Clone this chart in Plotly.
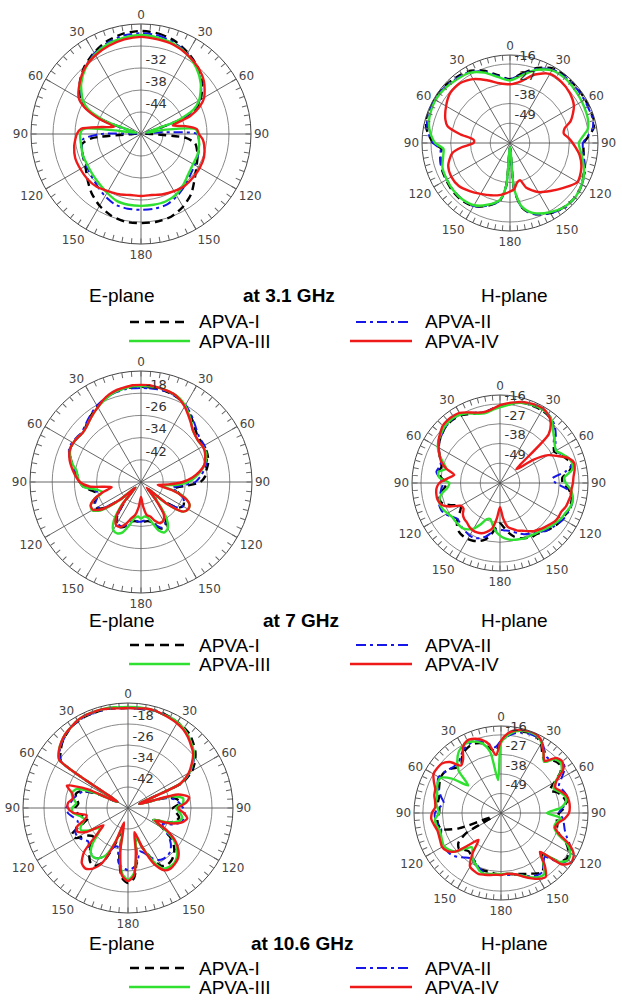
import plotly.graph_objects as go

W, H = 622, 1007

# ---------------- data: angles (deg) and levels (dB) ----------------
TH_E31 = [0, 10, 20, 30, 40, 50, 60, 65, 70, 75, 80, 85, 90, 95, 100, 110, 120, 130, 140, 150,
          160, 170, 180, 190, 200, 210, 220, 230, 240, 250, 260, 265, 270, 275, 280, 285, 290,
          295, 300, 310, 320, 330, 340, 350, 360]
E31_I = [-21.9, -22.2, -23.0, -24.4, -26.0, -28.2, -31.2, -33.4, -38.5, -48.4, -48.9, -49.2, -47.3, -37.7, -35.0,
         -33.6, -32.5, -30.9, -28.7, -27.1, -26.0, -25.7, -25.7, -25.7, -26.3, -27.4, -29.0, -30.9, -32.5, -33.1,
         -33.6, -36.4, -47.8, -48.9, -48.9, -48.4, -38.5, -33.4, -31.2,
         -28.2, -26.0, -24.4, -23.0, -22.2, -21.9]
E31_II = [-22.5, -22.7, -23.5, -24.6, -26.3, -28.5, -31.5, -33.6, -38.8, -48.4, -48.9, -44.5, -34.7, -34.2, -33.9,
          -33.4, -33.1, -32.5, -31.5, -30.4, -29.5, -29.3, -29.3, -29.3, -29.5, -30.4, -31.5, -32.3, -32.8, -33.1,
          -33.6, -34.2, -39.1, -48.4, -48.9, -48.4, -38.8, -33.6, -31.5,
          -28.5, -26.3, -24.6, -23.5, -22.7, -22.5]
E31_III = [-23.0, -23.3, -23.8, -24.9, -26.5, -28.7, -31.7, -34.2, -39.6, -48.6, -43.2, -35.0, -34.5, -34.2, -33.9,
           -33.6, -33.6, -33.1, -32.0, -30.9, -30.4, -30.4, -30.4, -30.4, -30.6, -31.5, -32.3, -32.8, -33.1, -33.1,
           -33.4, -33.4, -33.4, -34.2, -47.3, -48.6, -39.6, -34.2, -31.7,
           -28.7, -26.5, -24.9, -23.8, -23.3, -23.0]
E31_IV = [-23.5, -23.8, -24.1, -24.9, -26.0, -27.6, -30.1, -32.3, -35.8, -41.0, -37.7, -34.7, -34.2, -33.1, -32.5,
          -31.7, -31.5, -31.5, -31.5, -32.0, -32.5, -33.1, -33.1, -33.1, -32.5, -32.0, -31.2, -30.9, -30.9, -30.9,
          -31.5, -32.0, -32.5, -33.6, -39.1, -42.4, -37.7, -33.1, -30.4,
          -28.2, -26.3, -25.2, -24.4, -23.8, -23.5]

TH_H31 = [0, 10, 20, 30, 40, 50, 60, 70, 75, 80, 85, 90, 100, 110, 120, 130, 140, 150, 160, 165, 170, 175,
          180, 185, 190, 200, 210, 220, 230, 240, 250, 260, 265, 270, 275, 280, 285, 290, 300, 310, 320,
          330, 340, 350, 360]
H31_I = [-24.5, -20.6, -15.5, -12.1, -11.6, -11.6, -11.6, -11.6, -11.6, -12.7, -16.1, -18.9,
         -18.3, -16.1, -13.8, -12.7, -13.3, -14.9, -17.8, -20.0, -24.0, -34.1, -57.7, -36.3, -27.3,
         -22.8, -19.4, -18.3, -18.3, -18.9, -19.4, -20.6, -21.7, -17.2, -14.9, -12.7, -11.6, -11.0,
         -11.0, -11.6, -12.7, -13.8, -17.2, -21.7, -24.5]
H31_II = [-24.5, -21.1, -16.1, -12.7, -12.1, -12.1, -12.1, -12.1, -12.1, -13.3, -16.6, -19.4,
          -18.3, -15.5, -13.8, -12.7, -12.7, -14.9, -17.8, -20.0, -24.0, -34.1, -57.7, -36.3, -27.3,
          -22.8, -19.4, -18.9, -18.9, -19.4, -19.4, -20.6, -21.1, -17.2, -14.9, -13.3, -12.1, -11.6,
          -11.6, -12.1, -13.3, -14.4, -17.8, -22.3, -24.5]
H31_III = [-25.1, -21.7, -16.6, -13.3, -12.7, -13.3, -13.8, -14.4, -14.9, -16.1, -19.4, -21.7,
           -19.4, -16.1, -13.8, -12.7, -13.3, -15.5, -18.3, -20.6, -24.5, -34.7, -57.7, -36.3, -27.9,
           -23.4, -20.0, -18.9, -18.9, -19.4, -20.0, -22.3, -22.8, -18.3, -16.1, -14.4, -13.3, -12.7,
           -12.1, -12.7, -13.8, -14.9, -18.3, -22.8, -25.1]
H31_IV = [-27.3, -25.1, -19.4, -15.5, -15.5, -16.6, -18.9, -24.0, -28.5, -29.6, -27.3, -25.1,
          -20.6, -17.8, -16.6, -21.1, -25.1, -28.5, -33.5, -38.6, -37.5, -34.1, -33.0, -31.8, -30.7,
          -29.0, -27.3, -25.1, -22.8, -22.3, -23.4, -27.3, -33.0, -39.7, -39.7, -31.8, -24.0, -21.7,
          -18.9, -16.6, -16.6, -18.9, -22.8, -26.2, -27.3]

TH_5 = list(range(0, 361, 5))

E7_I = [-15.7, -15.7, -15.7, -16.1, -16.4, -17.1, -18.2, -19.6, -21.1, -22.5, -23.6, -23.9,
        -23.9, -23.9, -24.3, -25.0, -26.1, -26.8, -28.6, -33.9, -37.5, -36.4, -33.9, -32.9,
        -32.5, -33.9, -39.3, -46.4, -41.1, -35.0, -32.1, -31.4, -32.9, -35.0, -35.7, -35.7,
        -35.7, -35.7, -35.7, -35.0, -32.9, -32.1, -32.5, -35.0, -41.1, -47.1, -40.0, -33.6,
        -31.4, -31.4, -32.9, -33.9, -32.1, -29.3, -27.9, -27.1, -26.1, -24.3, -22.9, -21.8,
        -21.8, -22.1, -22.5, -21.8, -20.7, -19.6, -18.6, -17.5, -16.8, -16.1, -15.7, -15.7, -15.7]
E7_II = [-16.1, -16.1, -16.1, -16.1, -16.4, -17.1, -17.9, -19.3, -20.7, -22.1, -23.2, -23.6,
         -23.6, -23.9, -24.6, -25.7, -27.1, -28.6, -30.4, -35.0, -38.6, -36.4, -33.9, -32.9,
         -32.5, -33.9, -39.3, -46.4, -41.1, -35.0, -32.5, -31.8, -33.2, -35.4, -36.1, -36.1,
         -35.7, -35.7, -36.1, -35.0, -33.2, -32.5, -32.9, -35.4, -41.1, -47.1, -40.0, -33.9,
         -31.8, -31.8, -33.2, -34.3, -32.9, -29.6, -27.9, -26.8, -25.7, -23.9, -22.5, -21.4,
         -21.4, -21.8, -22.1, -21.4, -20.4, -19.3, -18.2, -17.5, -16.8, -16.4, -16.1, -16.1, -16.1]
E7_III = [-15.4, -15.4, -15.4, -15.7, -16.1, -16.8, -18.2, -20.0, -21.8, -23.6, -24.3, -24.6,
          -24.3, -24.3, -25.0, -26.4, -28.2, -30.4, -32.9, -37.5, -42.9, -37.5, -32.9, -30.7,
          -30.4, -31.4, -37.5, -46.4, -41.1, -33.9, -30.7, -30.0, -31.4, -35.0, -37.1, -37.5,
          -36.8, -37.5, -36.8, -33.9, -30.7, -29.6, -30.0, -32.9, -39.3, -47.1, -39.3, -32.1,
          -29.6, -30.0, -32.1, -35.7, -33.9, -29.3, -27.9, -27.1, -26.4, -24.3, -22.9, -21.8,
          -21.8, -22.1, -22.5, -22.1, -21.1, -20.0, -18.9, -17.9, -16.8, -16.1, -15.7, -15.4, -15.4]
E7_IV = [-15.0, -15.0, -15.4, -15.7, -16.1, -17.1, -18.6, -20.4, -22.1, -23.6, -24.3, -24.6,
         -24.3, -24.6, -25.4, -26.4, -28.6, -31.4, -35.0, -40.0, -43.9, -38.2, -33.2, -30.7,
         -30.4, -31.4, -37.5, -47.1, -42.1, -35.7, -33.9, -33.6, -35.0, -37.1, -37.9, -41.1,
         -44.6, -41.1, -37.9, -36.4, -33.9, -32.1, -32.1, -34.3, -40.0, -47.1, -40.0, -32.9,
         -30.0, -30.0, -32.1, -35.7, -39.3, -31.4, -27.9, -26.4, -25.0, -23.6, -22.5, -21.8,
         -21.8, -22.1, -22.5, -22.1, -21.1, -20.0, -18.9, -17.5, -16.4, -15.7, -15.4, -15.0, -15.0]

H7_I = [-17.2, -16.1, -14.9, -13.8, -13.3, -13.3, -13.3, -13.8, -14.9, -17.8, -20.6, -23.4,
        -25.1, -22.8, -20.6, -18.9, -20.6, -25.1, -25.1, -21.7, -19.4, -18.9, -18.9, -19.4,
        -20.0, -20.6, -21.7, -22.8, -24.0, -25.1, -25.1, -26.2, -27.3, -29.0, -31.8, -35.2,
        -37.5, -35.2, -30.7, -27.3, -25.6, -24.5, -24.0, -24.0, -24.5, -26.2, -29.0, -33.0,
        -34.7, -30.7, -26.2, -25.1, -26.2, -29.0, -30.2, -27.3, -25.1, -26.2, -25.1, -22.8,
        -20.6, -18.9, -17.8, -16.6, -16.1, -16.1, -16.6, -17.8, -18.9, -19.4, -19.4, -18.3, -17.2]
H7_II = [-17.2, -16.1, -14.9, -13.8, -13.3, -12.7, -12.7, -13.3, -14.4, -16.6, -19.4, -22.3,
         -24.0, -22.3, -19.4, -18.3, -22.8, -30.7, -29.0, -22.8, -19.4, -18.3, -18.3, -18.9,
         -19.4, -20.6, -21.7, -22.8, -24.5, -26.2, -27.3, -28.5, -30.2, -31.8, -33.0, -33.5,
         -34.1, -33.5, -31.8, -29.0, -27.3, -26.2, -26.2, -26.8, -27.3, -28.5, -29.0, -27.3,
         -25.1, -24.0, -24.0, -24.5, -26.2, -27.3, -28.5, -26.2, -24.0, -25.1, -25.1, -22.8,
         -20.6, -18.9, -17.8, -16.6, -16.1, -15.5, -16.1, -17.2, -18.3, -19.4, -19.4, -18.3, -17.2]
H7_III = [-17.8, -16.6, -14.9, -13.8, -13.3, -12.7, -12.7, -13.3, -14.9, -18.3, -20.6, -22.8,
          -24.0, -21.7, -19.4, -18.3, -19.4, -24.0, -23.4, -20.6, -18.9, -18.3, -18.9, -20.0,
          -20.6, -21.7, -22.8, -24.0, -25.1, -25.6, -26.2, -26.2, -26.8, -27.3, -27.9, -29.0,
          -30.7, -33.0, -36.3, -39.2, -38.6, -34.7, -30.7, -28.5, -27.3, -27.3, -27.3, -27.3,
          -26.2, -25.1, -24.5, -25.1, -27.3, -30.7, -31.8, -26.2, -25.1, -29.0, -26.2, -22.8,
          -20.0, -18.3, -17.2, -16.1, -15.5, -15.5, -16.1, -17.2, -18.9, -20.0, -20.0, -18.9, -17.8]
H7_IV = [-16.6, -15.5, -14.4, -13.3, -12.7, -12.1, -12.1, -13.3, -16.1, -21.7, -48.2, -37.5,
         -29.0, -24.5, -19.4, -17.2, -17.8, -18.9, -19.4, -20.0, -20.0, -20.6, -21.1, -22.3,
         -22.3, -22.8, -24.0, -25.1, -26.2, -27.3, -29.0, -30.7, -31.8, -33.5, -35.2, -40.3,
         -46.5, -40.3, -34.1, -31.8, -30.2, -29.6, -29.6, -30.2, -31.3, -31.8, -33.0, -35.2,
         -34.7, -29.0, -25.1, -24.0, -24.0, -24.5, -26.2, -30.7, -34.1, -29.0, -25.1, -22.8,
         -20.6, -18.3, -16.6, -14.9, -14.4, -14.4, -14.9, -16.6, -18.3, -19.4, -19.4, -18.3, -16.6]

E106_I = [-11.9, -11.9, -11.9, -11.5, -11.5, -11.9, -12.3, -12.7, -13.4, -14.9, -16.5, -18.8,
          -21.8, -27.1, -45.4, -34.8, -31.0, -30.2, -32.9, -31.7, -30.2, -31.0, -34.0, -39.3,
          -34.8, -30.2, -27.1, -25.2, -24.1, -23.7, -24.5, -28.7, -34.0, -38.6, -31.0, -23.3,
          -21.4, -23.3, -31.0, -40.5, -34.8, -27.1, -24.5, -24.9, -27.1, -30.2, -32.9, -31.7,
          -27.1, -26.4, -31.0, -34.0, -32.5, -30.2, -29.8, -31.0, -30.2, -29.4, -31.0, -37.8,
          -45.4, -18.8, -16.5, -14.6, -13.4, -12.3, -11.9, -11.5, -11.5, -11.5, -11.5, -11.9, -11.9]
E106_II = [-11.9, -11.9, -11.9, -11.5, -11.9, -11.9, -12.3, -13.0, -14.2, -15.7, -17.2, -19.5,
           -22.6, -27.9, -45.4, -35.5, -31.7, -30.2, -29.0, -28.3, -28.3, -29.0, -31.7, -35.5,
           -34.0, -31.0, -28.7, -27.1, -26.4, -26.4, -27.1, -29.0, -31.7, -32.9, -29.0, -27.1,
           -26.4, -27.1, -29.0, -34.8, -34.0, -30.2, -27.9, -27.1, -27.9, -29.0, -30.2, -29.0,
           -27.9, -27.9, -29.0, -30.2, -29.0, -27.1, -26.4, -27.9, -29.0, -30.2, -31.7, -36.7,
           -45.4, -18.8, -16.1, -14.6, -13.4, -12.3, -11.9, -11.5, -11.5, -11.5, -11.5, -11.9, -11.9]
E106_III = [-11.5, -11.5, -11.5, -11.5, -11.9, -11.9, -12.3, -13.0, -14.2, -15.7, -17.2, -19.9,
            -23.0, -27.9, -45.4, -32.9, -28.7, -29.0, -31.7, -30.2, -29.0, -30.2, -34.0, -39.3,
            -34.0, -28.7, -25.6, -23.7, -22.6, -22.6, -23.3, -27.9, -34.0, -38.6, -31.7, -24.9,
            -22.6, -24.9, -32.9, -42.4, -36.7, -30.2, -27.9, -27.1, -27.9, -31.0, -35.5, -36.7,
            -32.9, -30.2, -31.0, -32.9, -31.7, -29.0, -28.7, -30.2, -28.7, -27.9, -29.0, -36.7,
            -45.4, -18.0, -15.7, -14.2, -13.0, -12.3, -11.5, -11.1, -11.1, -11.1, -11.1, -11.5, -11.5]
E106_IV = [-11.9, -11.9, -11.5, -11.5, -11.9, -12.3, -12.7, -13.4, -14.6, -16.1, -17.6, -20.3,
           -23.3, -27.9, -45.4, -30.2, -26.4, -27.9, -31.0, -28.7, -27.1, -28.7, -32.9, -38.6,
           -32.9, -27.9, -24.9, -23.0, -22.2, -21.8, -22.6, -26.4, -34.0, -40.5, -32.9, -24.1,
           -22.2, -24.1, -32.9, -44.3, -36.7, -27.1, -23.3, -21.8, -22.6, -26.4, -34.8, -38.6,
           -31.7, -28.7, -29.4, -32.9, -34.0, -29.0, -27.1, -27.1, -28.7, -27.9, -25.2, -32.9,
           -45.4, -18.0, -15.7, -14.2, -13.0, -12.3, -11.5, -11.1, -11.1, -11.1, -11.5, -11.9, -11.9]

H106_I = [-19.4, -16.1, -13.8, -12.7, -12.1, -12.7, -14.9, -19.4, -21.7, -18.3, -17.2, -18.9,
          -25.1, -29.6, -26.2, -24.0, -22.8, -24.0, -27.3, -28.5, -27.9, -27.3, -25.1, -19.4,
          -16.1, -14.9, -17.8, -27.3, -22.8, -19.4, -20.6, -22.3, -23.4, -24.5, -25.1, -25.6,
          -25.6, -25.6, -26.2, -26.2, -26.2, -27.3, -29.0, -30.7, -31.8, -30.7, -29.0, -30.7,
          -37.5, -54.4, -34.7, -25.1, -24.0, -24.0, -25.1, -25.1, -24.0, -24.0, -22.8, -21.7,
          -20.6, -20.6, -21.7, -24.0, -25.1, -21.7, -19.4, -18.3, -18.3, -19.4, -22.8, -25.1, -19.4]
H106_II = [-19.4, -16.6, -14.4, -13.3, -12.7, -12.7, -13.8, -17.2, -19.4, -17.2, -14.9, -16.1,
           -20.6, -24.0, -22.8, -21.7, -21.7, -25.1, -27.3, -25.1, -24.0, -22.8, -20.6, -17.2,
           -14.9, -13.8, -16.1, -25.1, -22.8, -19.4, -19.4, -20.6, -22.8, -24.0, -24.5, -25.1,
           -25.1, -25.1, -25.1, -25.1, -26.2, -27.9, -29.6, -29.0, -27.3, -25.1, -23.4, -22.8,
           -22.8, -22.8, -24.0, -25.1, -24.0, -22.8, -22.8, -25.1, -27.3, -25.1, -22.8, -20.6,
           -19.4, -20.6, -21.7, -22.8, -22.8, -20.6, -18.3, -17.2, -17.2, -18.3, -20.6, -22.8, -19.4]
H106_III = [-20.6, -16.1, -13.3, -12.1, -11.6, -12.1, -14.4, -18.3, -22.3, -17.2, -16.1, -18.3,
            -24.5, -27.3, -25.1, -22.8, -22.8, -26.2, -34.1, -26.2, -28.5, -29.0, -26.2, -18.9,
            -14.9, -13.8, -17.2, -28.5, -22.8, -17.8, -18.3, -20.0, -22.3, -24.0, -25.1, -25.6,
            -25.6, -25.6, -25.1, -24.5, -25.1, -27.3, -29.0, -31.8, -34.7, -31.8, -26.2, -24.0,
            -22.8, -23.4, -24.0, -24.0, -22.8, -22.8, -25.1, -24.0, -22.8, -22.8, -21.7, -20.6,
            -20.6, -26.2, -35.8, -26.2, -21.7, -18.3, -16.6, -16.1, -17.2, -19.4, -25.1, -41.4, -20.6]
H106_IV = [-19.4, -14.9, -12.7, -11.6, -11.0, -11.6, -13.8, -18.3, -21.7, -16.1, -14.9, -17.2,
           -24.0, -26.2, -24.0, -21.7, -21.1, -21.1, -21.7, -24.0, -27.3, -28.5, -25.1, -17.2,
           -12.7, -11.6, -14.9, -29.0, -21.7, -16.1, -17.2, -19.4, -21.7, -24.0, -25.1, -25.6,
           -25.1, -25.1, -24.5, -24.0, -23.4, -24.0, -25.1, -31.8, -40.3, -34.7, -26.2, -22.8,
           -21.7, -22.3, -22.8, -22.8, -21.7, -20.6, -21.1, -22.8, -22.3, -21.1, -20.6, -18.3,
           -16.1, -16.1, -16.6, -19.4, -25.1, -22.8, -17.2, -14.9, -15.5, -17.2, -20.6, -27.3, -19.4]

SERIES_NAMES = ["APVA-I", "APVA-II", "APVA-III", "APVA-IV"]
FREQ_LABELS = ["at 3.1 GHz", "at 7 GHz", "at 10.6 GHz"]
E_TICKS_31 = [-44, -38, -32, -26]
E_TICKS_HI = [-42, -34, -26, -18]
H_TICKS = [-49, -38, -27, -16]

# ---------------- styling ----------------
STYLES = [
    dict(color="#000000", dash="8px,5px", width=2.4),
    dict(color="#1616e8", dash="9px,4px,3px,4px", width=2.0),
    dict(color="#30e030", dash="solid", width=2.4),
    dict(color="#ee1a1a", dash="solid", width=2.4),
]


def rlabels(vals, hide_last=False):
    out = []
    for k, v in enumerate(vals):
        if hide_last and k == len(vals) - 1:
            out.append("")
        else:
            # a leading space and an empty second line lift the label just above its ring
            out.append("\u00a0%d<br>\u00a0" % v)
    return out


panels = [
    dict(c=(141, 134), R=110, rng=[-50, -20], ticks=E_TICKS_31, lab=rlabels(E_TICKS_31, True),
         theta=TH_E31, series=[E31_I, E31_II, E31_III, E31_IV]),
    dict(c=(510, 143), R=88, rng=[-60, -11], ticks=H_TICKS, lab=rlabels(H_TICKS),
         theta=TH_H31, series=[H31_I, H31_II, H31_III, H31_IV]),
    dict(c=(141, 482), R=111, rng=[-50, -10], ticks=E_TICKS_HI, lab=rlabels(E_TICKS_HI),
         theta=TH_5, series=[E7_I, E7_II, E7_III, E7_IV]),
    dict(c=(500, 483), R=88, rng=[-60, -11], ticks=H_TICKS, lab=rlabels(H_TICKS),
         theta=TH_5, series=[H7_I, H7_II, H7_III, H7_IV]),
    dict(c=(128, 808), R=105, rng=[-50, -10], ticks=E_TICKS_HI, lab=rlabels(E_TICKS_HI),
         theta=TH_5, series=[E106_I, E106_II, E106_III, E106_IV]),
    dict(c=(501, 813), R=87, rng=[-60, -11], ticks=H_TICKS, lab=rlabels(H_TICKS),
         theta=TH_5, series=[H106_I, H106_II, H106_III, H106_IV]),
]

ang_vals = list(range(0, 360, 5))
ang_text = [(str(v if v <= 180 else 360 - v) if v % 30 == 0 else "") for v in ang_vals]

fig = go.Figure()
lay = {}
for i, p in enumerate(panels):
    sub = "polar" if i == 0 else "polar%d" % (i + 1)
    rmin, rmax = p["rng"]
    th, rr = [], []
    for a in range(0, 180, 30):
        th += [a, a, a + 180, None]
        rr += [rmax, rmin, rmax, None]
    fig.add_trace(go.Scatterpolar(r=rr, theta=th, mode="lines", subplot=sub,
                                  line=dict(color="#555555", width=0.9),
                                  hoverinfo="skip", showlegend=False))
    for name, st, vals in zip(SERIES_NAMES, STYLES, p["series"]):
        assert len(vals) == len(p["theta"]), (i, name, len(vals), len(p["theta"]))
        fig.add_trace(go.Scatterpolar(
            r=vals, theta=p["theta"], mode="lines", subplot=sub, name=name, showlegend=False,
            line=dict(color=st["color"], dash=st["dash"], width=st["width"], shape="spline", smoothing=0.7)))
    cx, cy = p["c"]
    R = p["R"]
    lay[sub] = dict(
        domain=dict(x=[(cx - R) / W, (cx + R) / W], y=[1 - (cy + R) / H, 1 - (cy - R) / H]),
        bgcolor="white",
        angularaxis=dict(rotation=90, direction="clockwise", tickmode="array",
                         tickvals=ang_vals, ticktext=ang_text, ticks="inside", ticklen=5,
                         tickcolor="#666666", showline=True, linecolor="#444444", linewidth=1,
                         showgrid=False, tickfont=dict(family="DejaVu Sans", size=12, color="#444444")),
        radialaxis=dict(range=p["rng"], tickmode="array", tickvals=p["ticks"], ticktext=p["lab"],
                        showline=False, showgrid=True, gridcolor="#8a8a8a", gridwidth=1, ticks="",
                        angle=90, tickangle=90,
                        tickfont=dict(family="DejaVu Sans", size=13, color="#333333")),
    )

annotations = []
shapes = []
rows = [(295, 322, 341, 289), (620, 645, 664, 301), (943, 968, 987, 302)]
FONT = "Liberation Sans, Arial, sans-serif"
for (yt, y1, y2, xc), flab in zip(rows, FREQ_LABELS):
    annotations.append(dict(x=122 / W, y=1 - yt / H, text="E-plane", showarrow=False,
                            xanchor="center", yanchor="middle", font=dict(family=FONT, size=19, color="black")))
    annotations.append(dict(x=xc / W, y=1 - yt / H, text="<b>%s</b>" % flab, showarrow=False,
                            xanchor="center", yanchor="middle", font=dict(family=FONT, size=19, color="black")))
    annotations.append(dict(x=514 / W, y=1 - yt / H, text="H-plane", showarrow=False,
                            xanchor="center", yanchor="middle", font=dict(family=FONT, size=19, color="black")))
    leg = [(SERIES_NAMES[0], 130, 190, 197, y1, STYLES[0], "9px,6px"),
           (SERIES_NAMES[1], 356, 412, 423, y1, STYLES[1], "10px,4px,3px,4px"),
           (SERIES_NAMES[2], 129, 190, 197, y2, STYLES[2], "solid"),
           (SERIES_NAMES[3], 350, 412, 423, y2, STYLES[3], "solid")]
    for name, xa, xb, xt, yy, st, dash in leg:
        shapes.append(dict(type="line", xref="paper", yref="paper", x0=xa / W, x1=xb / W,
                           y0=1 - yy / H, y1=1 - yy / H,
                           line=dict(color=st["color"], width=2.6 if st["width"] > 2.1 else 2.2, dash=dash)))
        annotations.append(dict(x=xt / W, y=1 - yy / H, text=name, showarrow=False,
                                xanchor="left", yanchor="middle", font=dict(family=FONT, size=19, color="black")))

fig.update_layout(width=W, height=H, margin=dict(l=0, r=0, t=0, b=0), paper_bgcolor="white",
                  plot_bgcolor="white", showlegend=False, annotations=annotations, shapes=shapes, **lay)
fig.write_html("out.html")
